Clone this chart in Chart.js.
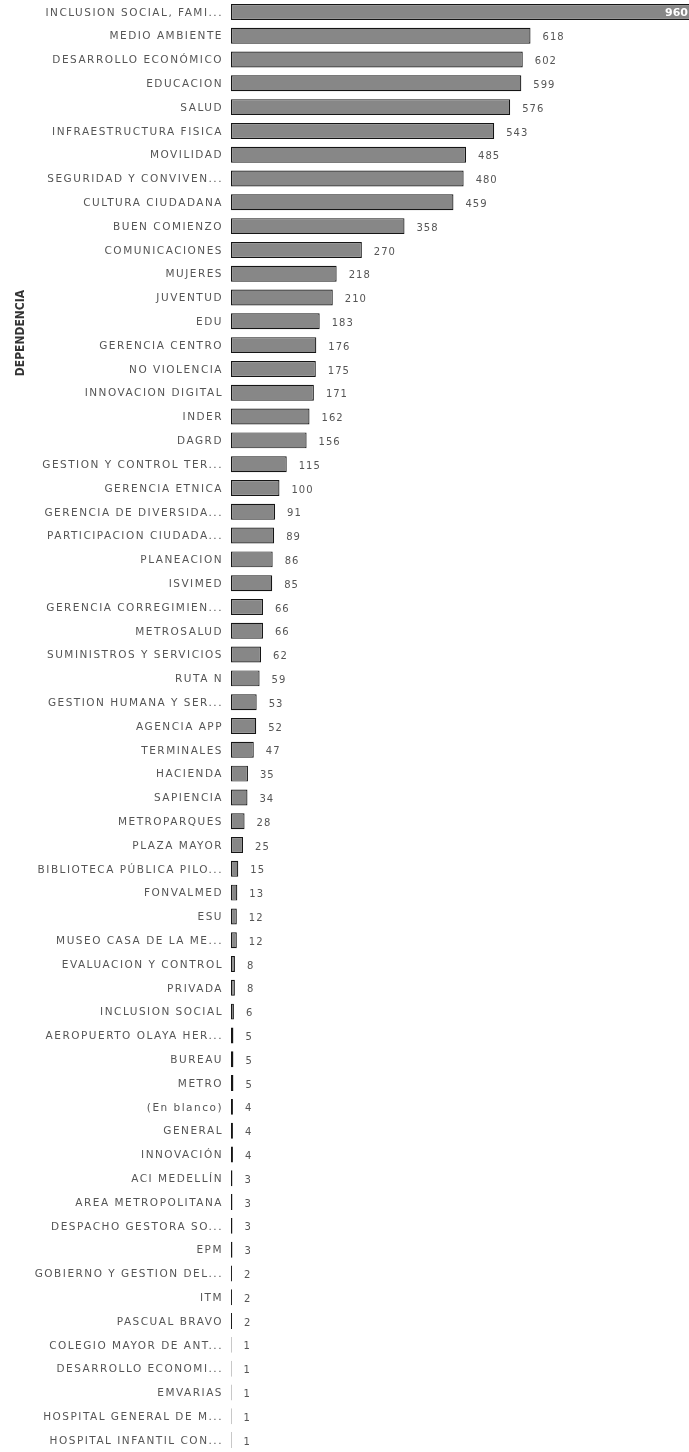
<!DOCTYPE html>
<html>
<head>
<meta charset="utf-8">
<script src="https://cdn.jsdelivr.net/npm/chart.js@4/dist/chart.umd.min.js"></script>
<style>
    html, body { margin: 0; padding: 0; background: #fff; }
    #wrap { width: 689px; height: 1452px; position: relative; }
</style>
</head>
<body>
<div id="wrap"><canvas id="chart"></canvas></div>
<script>
const dependencias = [
    'INCLUSION SOCIAL, FAMI...', 'MEDIO AMBIENTE', 'DESARROLLO ECONÓMICO', 'EDUCACION', 'SALUD',
    'INFRAESTRUCTURA FISICA', 'MOVILIDAD', 'SEGURIDAD Y CONVIVEN...', 'CULTURA CIUDADANA', 'BUEN COMIENZO',
    'COMUNICACIONES', 'MUJERES', 'JUVENTUD', 'EDU', 'GERENCIA CENTRO',
    'NO VIOLENCIA', 'INNOVACION DIGITAL', 'INDER', 'DAGRD', 'GESTION Y CONTROL TER...',
    'GERENCIA ETNICA', 'GERENCIA DE DIVERSIDA...', 'PARTICIPACION CIUDADA...', 'PLANEACION', 'ISVIMED',
    'GERENCIA CORREGIMIEN...', 'METROSALUD', 'SUMINISTROS Y SERVICIOS', 'RUTA N', 'GESTION HUMANA Y SER...',
    'AGENCIA APP', 'TERMINALES', 'HACIENDA', 'SAPIENCIA', 'METROPARQUES',
    'PLAZA MAYOR', 'BIBLIOTECA PÚBLICA PILO...', 'FONVALMED', 'ESU', 'MUSEO CASA DE LA ME...',
    'EVALUACION Y CONTROL', 'PRIVADA', 'INCLUSION SOCIAL', 'AEROPUERTO OLAYA HER...', 'BUREAU',
    'METRO', '(En blanco)', 'GENERAL', 'INNOVACIÓN', 'ACI MEDELLÍN',
    'AREA METROPOLITANA', 'DESPACHO GESTORA SO...', 'EPM', 'GOBIERNO Y GESTION DEL...', 'ITM',
    'PASCUAL BRAVO', 'COLEGIO MAYOR DE ANT...', 'DESARROLLO ECONOMI...', 'EMVARIAS', 'HOSPITAL GENERAL DE M...',
    'HOSPITAL INFANTIL CON...'
];
const conteo = [
    960, 618, 602, 599, 576,
    543, 485, 480, 459, 358,
    270, 218, 210, 183, 176,
    175, 171, 162, 156, 115,
    100, 91, 89, 86, 85,
    66, 66, 62, 59, 53,
    52, 47, 35, 34, 28,
    25, 15, 13, 12, 12,
    8, 8, 6, 5, 5,
    5, 4, 4, 4, 3,
    3, 3, 3, 2, 2,
    2, 1, 1, 1, 1,
    1
];
const axisTitle = 'DEPENDENCIA';
const LABEL_FONT = '"DejaVu Sans", sans-serif';

// category names, drawn wide and spaced like the scanned report
const categoryLabels = {
    id: 'categoryLabels',
    afterDraw(chart) {
        const ctx = chart.ctx;
        const yScale = chart.scales.y;
        ctx.save();
        ctx.font = '10.5px ' + LABEL_FONT;
        ctx.letterSpacing = '1.5px';
        ctx.fillStyle = '#555';
        ctx.textAlign = 'right';
        ctx.textBaseline = 'middle';
        dependencias.forEach((name, i) => {
            ctx.fillText(name, yScale.right - 8, yScale.getPixelForTick(i) + 1);
        });
        ctx.restore();
    }
};

// value labels at bar ends (the biggest one sits inside the bar)
const valueLabels = {
    id: 'valueLabels',
    afterDatasetsDraw(chart) {
        const ctx = chart.ctx;
        const meta = chart.getDatasetMeta(0);
        const maxVal = Math.max(...conteo);
        ctx.save();
        ctx.textBaseline = 'middle';
        meta.data.forEach((bar, i) => {
            const v = conteo[i];
            if (v === maxVal) {
                ctx.font = 'bold 11px ' + LABEL_FONT;
                ctx.fillStyle = '#ffffff';
                ctx.textAlign = 'right';
                ctx.fillText(String(v), chart.chartArea.right - 1, bar.y + 1);
            } else {
                ctx.font = '10px ' + LABEL_FONT;
                ctx.letterSpacing = '1px';
                ctx.fillStyle = '#555';
                ctx.textAlign = 'left';
                ctx.fillText(String(v), bar.x + 12, bar.y + 2);
            }
        });
        ctx.restore();
    }
};

// rotated axis title, drawn near the top like in the report
const sideTitle = {
    id: 'sideTitle',
    afterDraw(chart) {
        const ctx = chart.ctx;
        ctx.save();
        ctx.translate(21, 333);
        ctx.rotate(-Math.PI / 2);
        ctx.font = 'bold 12px "DejaVu Sans Condensed", "DejaVu Sans", sans-serif';
        ctx.fillStyle = '#333';
        ctx.textAlign = 'center';
        ctx.textBaseline = 'middle';
        ctx.fillText(axisTitle, 0, 0);
        ctx.restore();
    }
};

new Chart(document.getElementById('chart').getContext('2d'), {
    type: 'bar',
    data: {
        labels: dependencias,
        datasets: [{
            data: conteo,
            backgroundColor: '#878787',
            borderColor: '#151515',
            borderWidth: 1.2,
            borderSkipped: false,
            categoryPercentage: 1,
            barPercentage: 0.67
        }]
    },
    options: {
        indexAxis: 'y',
        responsive: true,
        maintainAspectRatio: false,
        animation: false,
        layout: { padding: 0 },
        plugins: { legend: { display: false }, tooltip: { enabled: false } },
        scales: {
            x: { display: false, min: 0, max: 945 },
            y: {
                grid: { display: false, drawTicks: false },
                border: { display: false },
                ticks: { display: false },
                afterFit(scale) { scale.width = 231; }
            }
        }
    },
    plugins: [valueLabels, categoryLabels, sideTitle]
});
</script>
</body>
</html>
